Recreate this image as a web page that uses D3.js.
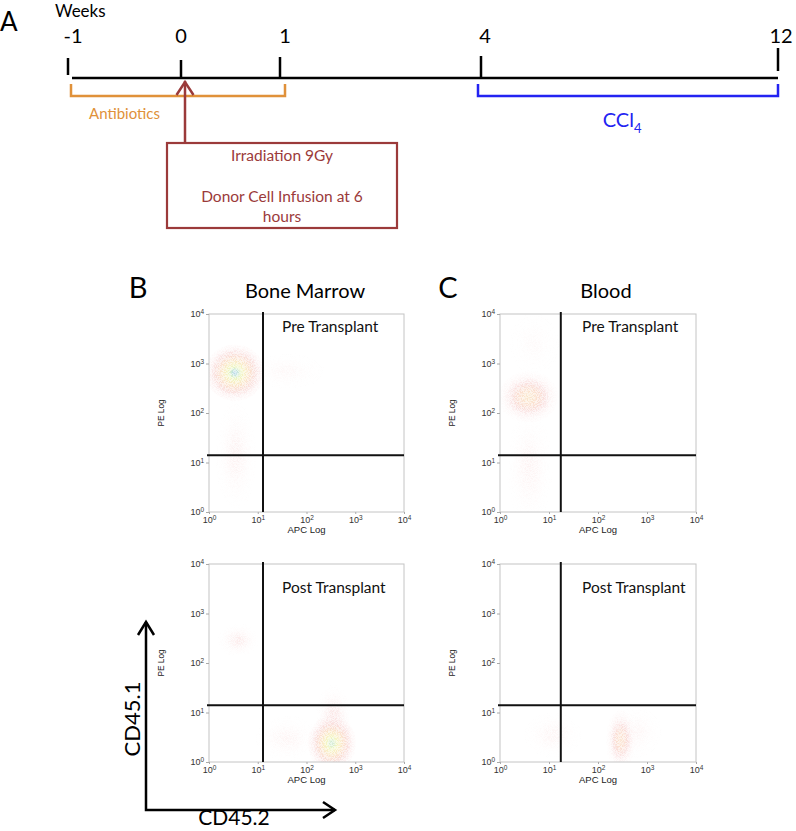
<!DOCTYPE html>
<html><head><meta charset="utf-8">
<script src="https://cdn.jsdelivr.net/npm/d3@7"></script>
<style>body{margin:0;background:#fff} svg{display:block}</style>
</head><body><svg id="c" width="796" height="831"></svg>
<script>
// ================= DATA =================
// Panel A: timeline (weeks)
const weeks = [-1, 0, 1, 4, 12];
const weekLabels = ["-1", "0", "1", "4", "12"];
const periodNames = ["Antibiotics", "CCl"];
const periodSubs = ["", "4"];
const periodStart = [-1, 4];
const periodEnd = [1, 12];
const periodLabelWeek = [-0.5, 7.8];
const eventWeek = 0;
const eventLines = ["Irradiation 9Gy", "", "Donor Cell Infusion at 6", "hours"];

// Panels B and C: flow cytometry (APC = CD45.2, PE = CD45.1)
const tissues = ["Bone Marrow", "Blood"];
const panelLetters = ["B", "C"];
const timepoints = ["Pre Transplant", "Post Transplant"];
const logTicks = [1, 10, 100, 1000, 10000];
const gateAPC = [12.8, 17.4];   // quadrant gate, by tissue
const gatePE = [14, 14];
// populations: [APC centre, PE centre, spread APC (decades), spread PE (decades), relative density]
const bonePre = [
  [40, 700, 0.6, 0.28, 0.05],
  [3.6, 14, 0.32, 0.85, 0.09],
  [3.4, 650, 0.47, 0.44, 1.0]
];
const bonePost = [
  [40, 3, 0.5, 0.35, 0.07],
  [4, 290, 0.32, 0.26, 0.12],
  [360, 8, 0.28, 0.5, 0.15],
  [330, 2.4, 0.38, 0.44, 0.95]
];
const bloodPre = [
  [5, 2500, 0.4, 0.5, 0.035],
  [4, 8, 0.36, 0.9, 0.08],
  [3.8, 210, 0.47, 0.4, 0.5]
];
const bloodPost = [
  [12, 3.5, 0.45, 0.35, 0.07],
  [600, 4, 0.4, 0.4, 0.06],
  [290, 2.8, 0.23, 0.47, 0.42]
];
const populations = [[bonePre, bonePost], [bloodPre, bloodPost]];

// ================= LAYOUT / STYLE =================
const svg = d3.select("#c");
const SANS = "Lato, 'Open Sans', sans-serif";
const ARIAL = "'Liberation Sans', Arial, sans-serif";
const ORANGE = "#e0913a", BLUE = "#2323f2", RED = "#9b3a3a";

const tl = {
  weekX: [68, 181, 280, 481, 778], lineY: 78, lineX0: 72,
  tickTop: [58, 60, 57, 56, 48], tickBot: [75, 78, 78, 78, 71],
  labelDx: [5, 0, 5, 4, 3], labelY: 43,
  brTop: 84, brBot: 96,
  box: {x0: 167, x1: 397, y0: 143, y1: 228}
};
const x = d3.scaleLinear().domain(weeks).range(tl.weekX);

const defs = svg.append("defs");

// ---------- Panel A ----------
svg.append("text").attr("x", 0).attr("y", 31).attr("font-family", SANS)
  .attr("font-size", 26).text("A");
svg.append("text").attr("x", 55).attr("y", 17).attr("font-family", SANS)
  .attr("font-size", 17).text("Weeks");

svg.append("line").attr("x1", tl.lineX0).attr("x2", x(12))
  .attr("y1", tl.lineY).attr("y2", tl.lineY)
  .attr("stroke", "#000").attr("stroke-width", 2.5);

const tg = svg.append("g");
tg.selectAll("line").data(weeks).join("line")
  .attr("x1", d => x(d)).attr("x2", d => x(d))
  .attr("y1", (d, i) => tl.tickTop[i]).attr("y2", (d, i) => tl.tickBot[i])
  .attr("stroke", "#000").attr("stroke-width", 2.5);
tg.selectAll("text").data(weeks).join("text")
  .attr("x", (d, i) => x(d) + tl.labelDx[i]).attr("y", tl.labelY)
  .attr("text-anchor", "middle").attr("font-family", SANS).attr("font-size", 20)
  .text((d, i) => weekLabels[i]);

// period brackets
periodNames.forEach((name, i) => {
  const col = i === 0 ? ORANGE : BLUE;
  const a = x(periodStart[i]) + (i === 0 ? 3 : -3), b = x(periodEnd[i]) + (i === 0 ? 5 : 0);
  svg.append("path")
    .attr("d", `M${a},${tl.brTop}V${tl.brBot}H${b}V${tl.brTop}`)
    .attr("fill", "none").attr("stroke", col).attr("stroke-width", 2.5);
  const t = svg.append("text").attr("x", x(periodLabelWeek[i]))
    .attr("y", i === 0 ? 119 : 127).attr("text-anchor", "middle")
    .attr("font-family", SANS).attr("font-size", i === 0 ? 15 : 20).attr("fill", col)
    .text(name);
  if (periodSubs[i]) t.append("tspan").attr("dy", 6).attr("font-size", 13).text(periodSubs[i]);
});

// event arrow + box
const ex = x(eventWeek) + 4;
svg.append("line").attr("x1", ex).attr("x2", ex).attr("y1", tl.box.y0).attr("y2", tl.lineY + 3)
  .attr("stroke", RED).attr("stroke-width", 2.5);
svg.append("path").attr("d", `M${ex - 8.5},${tl.lineY + 17}L${ex},${tl.lineY + 4}L${ex + 8.5},${tl.lineY + 17}`)
  .attr("fill", "none").attr("stroke", RED).attr("stroke-width", 2.5);
svg.append("rect").attr("x", tl.box.x0).attr("y", tl.box.y0)
  .attr("width", tl.box.x1 - tl.box.x0).attr("height", tl.box.y1 - tl.box.y0)
  .attr("fill", "none").attr("stroke", RED).attr("stroke-width", 2.2);
svg.append("g").selectAll("text").data(eventLines).join("text")
  .attr("x", (tl.box.x0 + tl.box.x1) / 2).attr("y", (d, i) => 161 + i * 20.3)
  .attr("text-anchor", "middle").attr("font-family", SANS).attr("font-size", 15.5)
  .attr("fill", RED).text(d => d);

// ---------- Panels B, C ----------
const colLeft = [209, 500], colW = [195, 196];
const rowTop = [314, 564], plotH = 198;
const headX = [[138, 305], [448, 606]];

tissues.forEach((tis, c) => {
  svg.append("text").attr("x", headX[c][0]).attr("y", 298).attr("text-anchor", "middle")
    .attr("font-family", SANS).attr("font-size", 29).text(panelLetters[c]);
  svg.append("text").attr("x", headX[c][1]).attr("y", 298).attr("text-anchor", "middle")
    .attr("font-family", SANS).attr("font-size", 20).text(tis);
});

// density colour ramp
const ramp = d3.scaleLinear()
  .domain([0, 0.15, 0.4, 0.68, 0.86, 0.96, 1])
  .range(["#fcecec", "#f9dada", "#fbe0cc", "#f9efc0", "#eef6bc", "#c6e8d6", "#a2cce8"])
  .interpolate(d3.interpolateRgb);

// grain filter
const f = defs.append("filter").attr("id", "grain").attr("x", 0).attr("y", 0)
  .attr("width", 1).attr("height", 1);
f.append("feTurbulence").attr("type", "fractalNoise").attr("baseFrequency", 1.2)
  .attr("numOctaves", 2).attr("seed", 7).attr("result", "noise");
f.append("feColorMatrix").attr("in", "noise").attr("type", "matrix")
  .attr("values", "0 0 0 0 1  0 0 0 0 1  0 0 0 0 1  5 0 0 0 -2.1").attr("result", "mask");
f.append("feComposite").attr("in", "SourceGraphic").attr("in2", "mask").attr("operator", "in");

let gid = 0;
function popGradient(peak) {
  const id = "pg" + (gid++);
  const g = defs.append("radialGradient").attr("id", id);
  d3.range(0, 1.0001, 0.1).forEach(t => {
    const dens = peak * Math.exp(-3.5 * t * t);
    g.append("stop").attr("offset", t).attr("stop-color", ramp(Math.min(1, dens)))
      .attr("stop-opacity", Math.min(0.9, dens * 4));
  });
  return id;
}

function supLabel(sel) {
  sel.each(function (d) {
    const t = d3.select(this);
    t.text("10");
    t.append("tspan").attr("dy", "-0.45em").attr("font-size", "0.72em").text(Math.round(Math.log10(d)));
  });
}

tissues.forEach((tis, c) => {
  timepoints.forEach((tp, r) => {
    const left = colLeft[c], top = rowTop[r], w = colW[c];
    const xs = d3.scaleLog().domain([1, 1e4]).range([left, left + w]);
    const ys = d3.scaleLog().domain([1, 1e4]).range([top + plotH, top]);
    const g = svg.append("g");
    const clipId = `clip${c}${r}`;
    defs.append("clipPath").attr("id", clipId).append("rect")
      .attr("x", left).attr("y", top).attr("width", w).attr("height", plotH);

    const pops = populations[c][r].map(p => ({apc: p[0], pe: p[1], sx: p[2], sy: p[3], peak: p[4]}));
    pops.forEach(p => p.grad = popGradient(p.peak));
    const ell = sel => sel
      .attr("cx", d => xs(d.apc)).attr("cy", d => ys(d.pe))
      .attr("rx", d => xs(d.apc * Math.pow(10, 1.3 * d.sx)) - xs(d.apc))
      .attr("ry", d => ys(d.pe) - ys(d.pe * Math.pow(10, 1.3 * d.sy)))
      .attr("fill", d => `url(#${d.grad})`);
    const dg = g.append("g").attr("clip-path", `url(#${clipId})`);
    dg.append("g").attr("opacity", 0.4).selectAll("ellipse").data(pops).join("ellipse").call(ell);
    dg.append("g").attr("filter", "url(#grain)").selectAll("ellipse").data(pops).join("ellipse").call(ell);

    // frame
    g.append("rect").attr("x", left).attr("y", top).attr("width", w).attr("height", plotH)
      .attr("fill", "none").attr("stroke", "#c4c4c4").attr("stroke-width", 1);

    // axes
    const ax = g.append("g").attr("transform", `translate(0,${top + plotH})`)
      .call(d3.axisBottom(xs).tickValues(logTicks).tickSize(2).tickPadding(3));
    const ay = g.append("g").attr("transform", `translate(${left},0)`)
      .call(d3.axisLeft(ys).tickValues(logTicks).tickSize(3).tickPadding(2));
    [ax, ay].forEach(a => {
      a.select(".domain").remove();
      a.selectAll(".tick line").attr("stroke", "#aaa");
      a.selectAll(".tick text").attr("font-family", ARIAL).attr("font-size", 9)
        .attr("fill", "#333").call(supLabel);
    });

    g.append("text").attr("x", left + w / 2).attr("y", top + plotH + 21)
      .attr("text-anchor", "middle").attr("font-family", ARIAL).attr("font-size", 9.5)
      .attr("fill", "#222").text("APC Log");
    g.append("text").attr("transform", `translate(${left - 45},${top + plotH / 2}) rotate(-90)`)
      .attr("text-anchor", "middle").attr("font-family", ARIAL).attr("font-size", 8.3)
      .attr("fill", "#222").text("PE Log");

    // quadrant gates
    g.append("line").attr("x1", xs(gateAPC[c])).attr("x2", xs(gateAPC[c]))
      .attr("y1", top - 2).attr("y2", top + plotH).attr("stroke", "#111").attr("stroke-width", 2);
    g.append("line").attr("x1", left - 2).attr("x2", left + w)
      .attr("y1", ys(gatePE[c])).attr("y2", ys(gatePE[c])).attr("stroke", "#111").attr("stroke-width", 2);

    g.append("text").attr("x", c === 0 ? left + 73 : left + 82)
      .attr("y", r === 0 ? top + 18 : top + 29)
      .attr("font-family", SANS).attr("font-size", 15.5).attr("fill", "#111").text(tp);
  });
});

// ---------- CD45 orientation axes ----------
const oa = {x0: 146, y0: 810, x1: 335, y1: 622};
svg.append("path").attr("d", `M${oa.x0},${oa.y1}V${oa.y0}H${oa.x1}`)
  .attr("fill", "none").attr("stroke", "#000").attr("stroke-width", 2.5);
svg.append("path").attr("d", `M${oa.x0 - 8},${oa.y1 + 13}L${oa.x0},${oa.y1}L${oa.x0 + 8},${oa.y1 + 13}`)
  .attr("fill", "none").attr("stroke", "#000").attr("stroke-width", 2.5);
svg.append("path").attr("d", `M${oa.x1 - 12},${oa.y0 - 8}L${oa.x1},${oa.y0}L${oa.x1 - 12},${oa.y0 + 8}`)
  .attr("fill", "none").attr("stroke", "#000").attr("stroke-width", 2.5);
svg.append("text").attr("transform", `translate(140,719) rotate(-90)`)
  .attr("text-anchor", "middle").attr("font-family", SANS).attr("font-size", 22).text("CD45.1");
svg.append("text").attr("x", 234).attr("y", 825).attr("text-anchor", "middle")
  .attr("font-family", SANS).attr("font-size", 21).text("CD45.2");
</script></body></html>
